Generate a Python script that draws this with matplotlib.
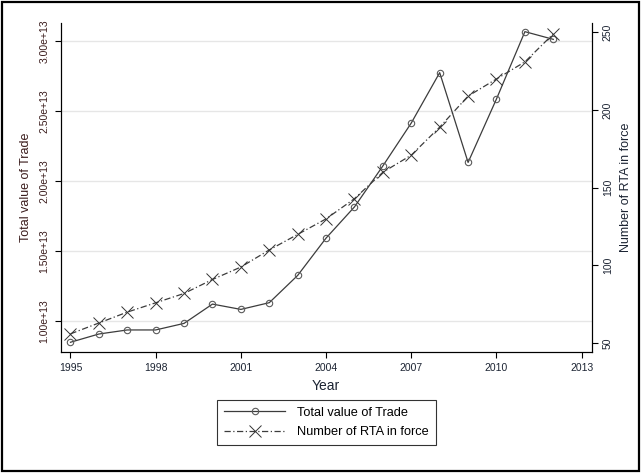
import numpy as np
import matplotlib
matplotlib.use("Agg")
import matplotlib.pyplot as plt
from matplotlib.patches import Rectangle

plt.rcParams['font.family'] = ['Liberation Sans', 'DejaVu Sans']

years = list(range(1995, 2013))
trade = [0.848e13, 0.907e13, 0.936e13, 0.936e13, 0.983e13, 1.121e13, 1.083e13,
         1.131e13, 1.326e13, 1.593e13, 1.816e13, 2.109e13, 2.416e13, 2.776e13,
         2.134e13, 2.588e13, 3.069e13, 3.014e13]
rta = [56, 63, 70, 76, 82, 91, 99, 110, 120, 130, 143, 160, 171, 189, 209, 220, 231, 249]
trade_ticks = [1.0e13, 1.5e13, 2.0e13, 2.5e13, 3.0e13]
rta_ticks = [50, 100, 150, 200, 250]
year_ticks = [1995, 1998, 2001, 2004, 2007, 2010, 2013]

left_col = '#3a1c1c'
right_col = '#1c2433'
line_col = '#3c3c3c'

fig = plt.figure(figsize=(6.41, 4.73), dpi=100)
fig.patches.append(Rectangle((0.003, 0.004), 0.994, 0.992, transform=fig.transFigure,
                             fill=False, edgecolor='black', linewidth=1.6))
ax = fig.add_axes([0.0944, 0.256, 0.8286, 0.696])
ax2 = ax.twinx()

l1, = ax.plot(years, trade, color=line_col, lw=0.9, marker='o', ms=4.6,
              mfc='none', mec='#5a5a5a', mew=0.8, label='Total value of Trade')
l2, = ax2.plot(years, rta, color=line_col, lw=0.9, dashes=(5, 2, 1, 2), marker='x',
               ms=8, mec='#333333', mew=0.7, label='Number of RTA in force')

ax.set_xlim(1994.65, 2013.35)
ax.set_ylim(0.779e13, 3.133e13)
ax2.set_ylim(44.4, 256.2)
ax.set_xticks(year_ticks)
ax.set_xticklabels([str(y) for y in year_ticks], fontsize=7.5, color=right_col)
ax.set_yticks(trade_ticks)
ax.set_yticklabels(['%.2fe+13' % (v / 1e13) for v in trade_ticks], fontsize=7.5,
                   color=left_col, rotation=90, va='center')
ax2.set_yticks(rta_ticks)
ax2.set_yticklabels([str(v) for v in rta_ticks], fontsize=7.5, color=right_col,
                    rotation=90, va='center')
ax.grid(axis='y', color='#e6e6e6', lw=1)
ax.set_axisbelow(True)
for a in (ax, ax2):
    a.spines['top'].set_visible(False)
    for s in ('left', 'right', 'bottom'):
        a.spines[s].set_linewidth(0.8)
    a.tick_params(length=4, width=0.8, pad=4)
ax.set_xlabel('Year', fontsize=10, color=right_col, labelpad=4)
ax.set_ylabel('Total value of Trade', fontsize=9, color=left_col, labelpad=5)
ax2.set_ylabel('Number of RTA in force', fontsize=9, color=right_col, labelpad=5)

leg = fig.legend(handles=[l1, l2], loc='center', bbox_to_anchor=(0.509, 0.107),
                 fontsize=9.2, frameon=True, fancybox=False, edgecolor='black',
                 handlelength=4.8, handletextpad=0.9, borderpad=0.55, labelspacing=0.6)
leg.get_frame().set_linewidth(0.8)

fig.savefig('out.png', dpi=100)
